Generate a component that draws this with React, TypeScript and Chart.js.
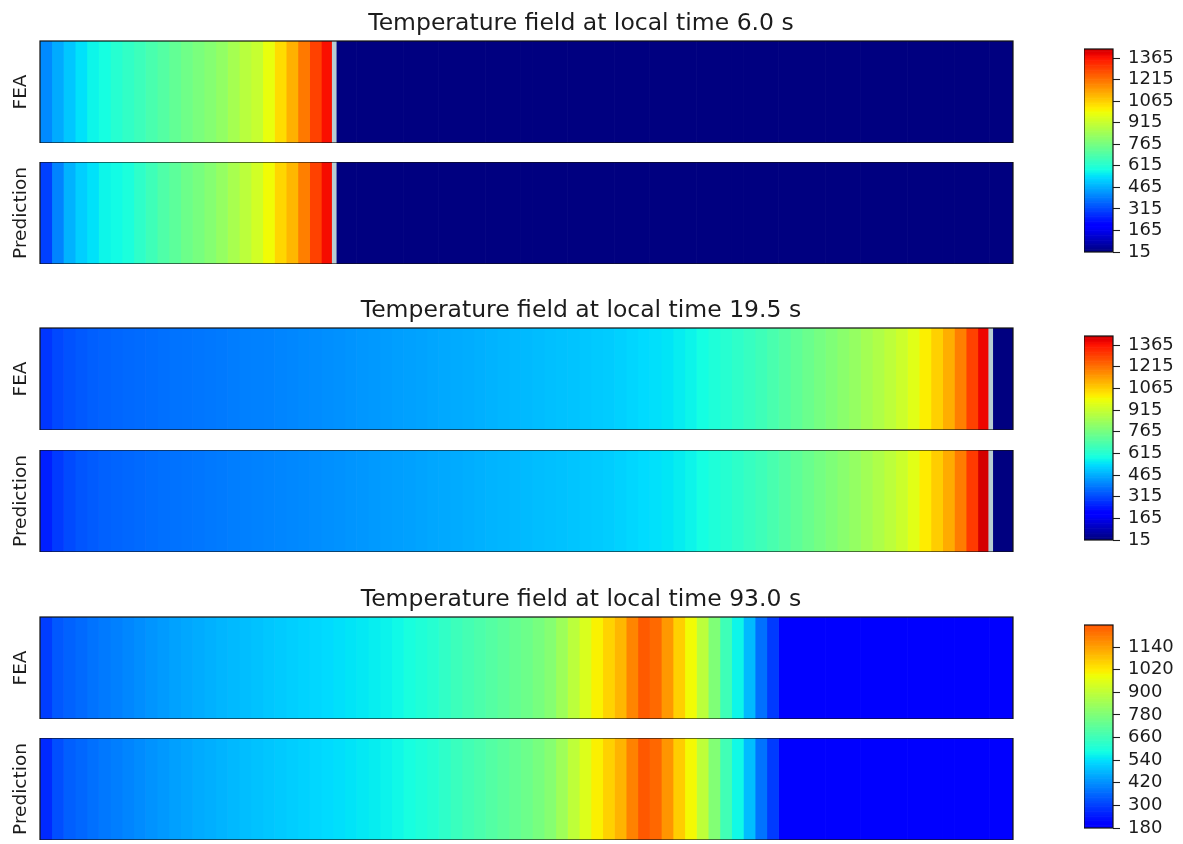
import React, { useEffect, useRef } from 'react';
import { Chart, registerables } from 'chart.js';

Chart.register(...registerables);
Chart.defaults.font.family = "'DejaVu Sans', 'Liberation Sans', sans-serif";

// ---------------- data ----------------
const COLUMNS = 83; // cells along each strip
const NORM_MIN = 15; // colour normalisation of the jet map (temperature)
const NORM_MAX = 1530;

const panelTitles = [
  'Temperature field at local time 6.0 s',
  'Temperature field at local time 19.5 s',
  'Temperature field at local time 93.0 s',
];
const rowLabels = ['FEA', 'Prediction'];

const fea_6_0 = [
  410, 459, 500, 540, 570, 585, 615, 635, 655, 680, 700, 725, 750, 770, 790, 815, 850, 885, 910, 975,
  1040, 1110, 1200, 1290, 1370,
  15, 15, 15, 15, 15, 15, 15, 15, 15, 15,
  15, 15, 15, 15, 15, 15, 15, 15, 15, 15,
  15, 15, 15, 15, 15, 15, 15, 15, 15, 15,
  15, 15, 15, 15, 15, 15, 15, 15, 15, 15,
  15, 15, 15, 15, 15, 15, 15, 15, 15, 15,
  15, 15, 15, 15, 15, 15, 15, 15,
];
const pred_6_0 = [
  300, 400, 470, 512, 540, 570, 578, 595, 630, 660, 690, 715, 745, 765, 790, 820, 855, 890, 930, 990,
  1050, 1100, 1190, 1290, 1375,
  15, 15, 15, 15, 15, 15, 15, 15, 15, 15,
  15, 15, 15, 15, 15, 15, 15, 15, 15, 15,
  15, 15, 15, 15, 15, 15, 15, 15, 15, 15,
  15, 15, 15, 15, 15, 15, 15, 15, 15, 15,
  15, 15, 15, 15, 15, 15, 15, 15, 15, 15,
  15, 15, 15, 15, 15, 15, 15, 15,
];
const fea_19_5 = [
  285, 312, 326, 337, 345, 352, 356, 360, 364, 367,
  371, 375, 377, 379, 383, 386, 390, 394, 396, 398,
  402, 405, 409, 413, 417, 420, 424, 428, 432, 436,
  440, 443, 447, 451, 455, 458, 462, 466, 470, 474,
  477, 481, 485, 489, 492, 496, 500, 504, 507, 515,
  522, 530, 537, 545, 556, 568, 583, 600, 615, 630,
  645, 660, 680, 700, 720, 740, 760, 780, 800, 820,
  845, 868, 893, 921, 958, 1010, 1060, 1115, 1190, 1290,
  1385, 15, 15,
];
const pred_19_5 = [
  250, 290, 315, 330, 340, 348, 353, 358, 362, 366,
  370, 374, 377, 380, 384, 387, 391, 394, 397, 400,
  403, 406, 410, 414, 418, 421, 425, 429, 433, 437,
  441, 444, 448, 452, 456, 459, 463, 467, 471, 475,
  478, 482, 486, 490, 493, 497, 501, 505, 509, 516,
  523, 531, 538, 546, 557, 569, 584, 600, 614, 629,
  644, 659, 678, 698, 718, 738, 758, 778, 798, 818,
  842, 866, 891, 920, 960, 1015, 1065, 1120, 1195, 1300,
  1420, 15, 15,
];
const fea_93_0 = [
  295, 335, 350, 362, 375, 385, 395, 405, 415, 425,
  435, 445, 452, 460, 467, 474, 480, 487, 493, 500,
  506, 512, 518, 524, 530, 537, 544, 551, 558, 566,
  575, 590, 603, 615, 635, 655, 670, 685, 700, 715,
  730, 745, 765, 790, 835, 890, 945, 1005, 1055, 1100,
  1180, 1250, 1225, 1150, 1060, 990, 890, 780, 660, 570,
  480, 370, 290, 200, 185, 185, 185, 185, 185, 185,
  185, 185, 185, 185, 185, 185, 185, 185, 185, 185,
  185, 185, 185,
];
const pred_93_0 = [
  265, 320, 345, 358, 370, 382, 392, 402, 412, 422,
  432, 442, 450, 458, 465, 472, 479, 486, 492, 499,
  505, 511, 517, 523, 529, 536, 543, 550, 557, 565,
  574, 588, 600, 612, 630, 650, 666, 682, 698, 713,
  728, 744, 765, 792, 838, 895, 950, 1008, 1058, 1105,
  1185, 1252, 1228, 1155, 1065, 995, 895, 785, 665, 575,
  485, 375, 292, 202, 186, 185, 185, 185, 185, 185,
  185, 185, 185, 185, 185, 185, 185, 185, 185, 185,
  185, 185, 185,
];

// position of the melt-front line, in cell units (null = none)
const frontLine = [25.1, 81.1, null];

// colour-bar tick labels and ranges
const ticks_6_0 = [15, 165, 315, 465, 615, 765, 915, 1065, 1215, 1365];
const ticks_19_5 = [15, 165, 315, 465, 615, 765, 915, 1065, 1215, 1365];
const ticks_93_0 = [180, 300, 420, 540, 660, 780, 900, 1020, 1140];
const range_6_0 = [15, 1428];
const range_19_5 = [15, 1428];
const range_93_0 = [180, 1257];

// ---------------- colour map (matplotlib jet) ----------------
const JET_R = [[0, 0], [0.35, 0], [0.66, 1], [0.89, 1], [1, 0.5]];
const JET_G = [[0, 0], [0.125, 0], [0.375, 1], [0.64, 1], [0.91, 0], [1, 0]];
const JET_B = [[0, 0.5], [0.11, 1], [0.34, 1], [0.65, 0], [1, 0]];

function seg(pts: number[][], t: number) {
  for (let i = 1; i < pts.length; i++) {
    if (t <= pts[i][0]) {
      const [x0, y0] = pts[i - 1];
      const [x1, y1] = pts[i];
      return y0 + ((y1 - y0) * (t - x0)) / (x1 - x0);
    }
  }
  return pts[pts.length - 1][1];
}
function jet(T: number) {
  const t = Math.min(1, Math.max(0, (T - NORM_MIN) / (NORM_MAX - NORM_MIN)));
  const r = Math.round(255 * seg(JET_R, t));
  const g = Math.round(255 * seg(JET_G, t));
  const b = Math.round(255 * seg(JET_B, t));
  return `rgb(${r},${g},${b})`;
}

const TEXT = '#1c1c1c';

const outlinePlugin = {
  id: 'outline',
  afterDatasetsDraw(chart: any) {
    const { ctx, chartArea: a } = chart;
    ctx.save();
    ctx.strokeStyle = '#111';
    ctx.lineWidth = 1.2;
    ctx.strokeRect(a.left, a.top, a.right - a.left, a.bottom - a.top);
    ctx.restore();
  },
};

function stripConfig(temps: number[], front: number | null, label: string, title: string | null) {
  const datasets: any[] = [];
  if (front != null) {
    datasets.push({
      data: [[front - 0.17, front + 0.17]],
      backgroundColor: '#b7ccd2',
      borderWidth: 0,
      grouped: false,
      barPercentage: 1,
      categoryPercentage: 1,
    });
  }
  temps.forEach((T, i) => {
    datasets.push({
      data: [[i, i + 1]],
      backgroundColor: jet(T),
      borderWidth: 0,
      grouped: false,
      barPercentage: 1,
      categoryPercentage: 1,
    });
  });
  return {
    type: 'bar',
    data: { labels: [label], datasets },
    options: {
      indexAxis: 'y',
      animation: false,
      responsive: false,
      devicePixelRatio: 1,
      layout: { padding: 0 },
      events: [],
      plugins: {
        legend: { display: false },
        tooltip: { enabled: false },
        title: title
          ? {
              display: true,
              text: title,
              color: TEXT,
              font: { size: 23.5, weight: 'normal' },
              padding: { top: 1, bottom: 2.8 },
            }
          : { display: false },
      },
      scales: {
        x: { type: 'linear', min: 0, max: COLUMNS, display: false },
        y: {
          type: 'category',
          position: 'left',
          grid: { display: false },
          border: { display: false },
          ticks: { display: false },
          title: {
            display: true,
            text: label,
            color: TEXT,
            font: { size: 18.5, weight: 'normal' },
            padding: { top: 10.5, bottom: 0 },
          },
          afterFit: (s: any) => {
            s.width = 40;
          },
        },
        yR: {
          type: 'linear',
          position: 'right',
          display: true,
          grid: { display: false },
          border: { display: false },
          ticks: { display: false },
          afterFit: (s: any) => {
            s.width = 149;
          },
        },
      },
    },
    plugins: [outlinePlugin],
  };
}

function colorbarConfig(range: number[], ticks: number[]) {
  const [lo, hi] = range;
  const n = 160;
  const step = (hi - lo) / n;
  const datasets: any[] = [];
  for (let k = 0; k < n; k++) {
    const a = lo + k * step;
    datasets.push({
      data: [[a, a + step]],
      backgroundColor: jet(a + step / 2),
      borderWidth: 0,
      grouped: false,
      barPercentage: 1,
      categoryPercentage: 1,
    });
  }
  return {
    type: 'bar',
    data: { labels: ['cb'], datasets },
    options: {
      animation: false,
      responsive: false,
      devicePixelRatio: 1,
      events: [],
      layout: { padding: { top: 12, bottom: 12, left: 0, right: 0 } },
      plugins: { legend: { display: false }, tooltip: { enabled: false }, title: { display: false } },
      scales: {
        x: { type: 'category', display: false },
        y: {
          type: 'linear',
          position: 'right',
          min: lo,
          max: hi,
          afterBuildTicks: (s: any) => {
            s.ticks = ticks.map((v) => ({ value: v }));
          },
          ticks: {
            autoSkip: false,
            color: TEXT,
            padding: 8,
            font: { size: 18 },
            callback: (v: any) => String(v),
          },
          grid: {
            display: true,
            drawOnChartArea: false,
            drawTicks: true,
            tickLength: 7,
            tickColor: '#1c1c1c',
            tickWidth: 1.1,
          },
          border: { display: false },
          afterFit: (s: any) => {
            s.width = 70;
            s.paddingTop = 0;
            s.paddingBottom = 0;
          },
        },
      },
    },
    plugins: [outlinePlugin],
  };
}

function ChartCanvas({ make, left, top, width, height }: any) {
  const ref = useRef<HTMLCanvasElement | null>(null);
  useEffect(() => {
    if (!ref.current) return;
    const chart = new Chart(ref.current, make());
    return () => chart.destroy();
  }, []);
  return (
    <canvas
      ref={ref}
      width={width}
      height={height}
      style={{ position: 'absolute', left, top, width, height, display: 'block' }}
    />
  );
}

const panels = [
  { title: panelTitles[0], fea: fea_6_0, pred: pred_6_0, front: frontLine[0], ticks: ticks_6_0, range: range_6_0 },
  { title: panelTitles[1], fea: fea_19_5, pred: pred_19_5, front: frontLine[1], ticks: ticks_19_5, range: range_19_5 },
  { title: panelTitles[2], fea: fea_93_0, pred: pred_93_0, front: frontLine[2], ticks: ticks_93_0, range: range_93_0 },
];

const FEA_TOP = [41, 328, 617];
const PRED_TOP = [162, 450, 738];
const STRIP_H = 102;
const TITLE_BLOCK = 32;
const STRIP_CANVAS_W = 1162;

export default function App() {
  return (
    <div
      style={{
        position: 'absolute',
        left: 0,
        top: 0,
        width: 1183,
        height: 844,
        background: '#ffffff',
        overflow: 'hidden',
      }}
    >
      {panels.map((p, i) => {
        const cbTop = FEA_TOP[i] + 8;
        const cbBottom = PRED_TOP[i] + STRIP_H - 12;
        return (
          <React.Fragment key={i}>
            <ChartCanvas
              make={() => stripConfig(p.fea, p.front, rowLabels[0], p.title)}
              left={0}
              top={FEA_TOP[i] - TITLE_BLOCK}
              width={STRIP_CANVAS_W}
              height={STRIP_H + TITLE_BLOCK}
            />
            <ChartCanvas
              make={() => stripConfig(p.pred, p.front, rowLabels[1], null)}
              left={0}
              top={PRED_TOP[i]}
              width={STRIP_CANVAS_W}
              height={STRIP_H}
            />
            <ChartCanvas
              make={() => colorbarConfig(p.range, p.ticks)}
              left={1084}
              top={cbTop - 12}
              width={99}
              height={cbBottom - cbTop + 24}
            />
          </React.Fragment>
        );
      })}
    </div>
  );
}
